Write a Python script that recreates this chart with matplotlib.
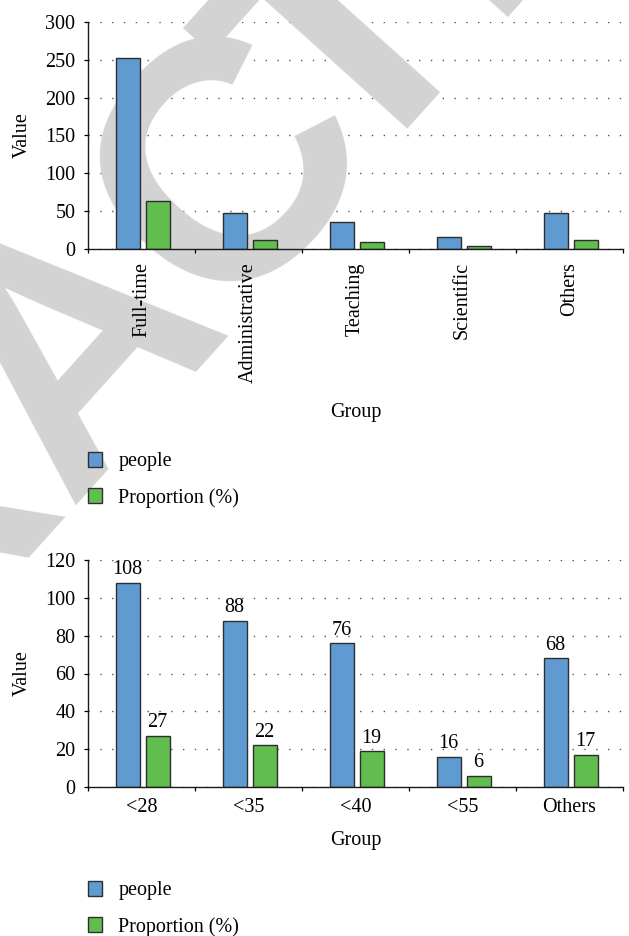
import matplotlib.pyplot as plt
import numpy as np

# staff by job type
jobs = ['Full-time', 'Administrative', 'Teaching', 'Scientific', 'Others']
job_people = [252, 48, 36, 16, 48]
job_prop = [63, 12, 9, 4, 12]

# staff by age group
ages = ['<28', '<35', '<40', '<55', 'Others']
age_people = [108, 88, 76, 16, 68]
age_prop = [27, 22, 19, 6, 17]

BLUE = '#5f9bd0'
GREEN = '#62bd4f'
EDGE = '#2e2e2e'
W, H = 629, 936

plt.rcParams['font.family'] = ['Liberation Serif', 'DejaVu Serif']
plt.rcParams['font.size'] = 14.5

fig = plt.figure(figsize=(W / 100, H / 100), dpi=100)


def px_axes(left, top, right, bottom):
    return fig.add_axes([left / W, 1 - bottom / H, (right - left) / W, (bottom - top) / H])


def grouped(ax, labels, people, prop, ymax, step, rotate):
    x = np.arange(len(labels))
    b1 = ax.bar(x - 0.13, people, 0.225, color=BLUE, edgecolor=EDGE, linewidth=1.0, label='people')
    b2 = ax.bar(x + 0.15, prop, 0.225, color=GREEN, edgecolor=EDGE, linewidth=1.0, label='Proportion (%)')
    ax.set_xlim(-0.5, len(labels) - 0.5)
    ax.set_ylim(0, ymax)
    ax.set_yticks(np.arange(0, ymax + 1, step))
    ax.set_xticks(x)
    ax.set_xticklabels(labels, rotation=90 if rotate else 0)
    ax.set_xticks(np.arange(len(labels) + 1) - 0.5, minor=True)
    ax.tick_params(axis='x', which='major', length=0, pad=9.5 if rotate else 8)
    ax.tick_params(axis='x', which='minor', length=3, width=0.9, direction='out')
    ax.tick_params(axis='y', length=3, width=0.9, pad=6)
    for s in ['top', 'right']:
        ax.spines[s].set_visible(False)
    for s in ['left', 'bottom']:
        ax.spines[s].set_linewidth(1.0)
        ax.spines[s].set_color('#1a1a1a')
    ax.grid(axis='y', linestyle=(0, (1, 7.5)), color='#555555', linewidth=1.0)
    ax.set_axisbelow(True)
    ax.xaxis.set_zorder(2.5)
    ax.patch.set_alpha(0)
    ax.set_ylabel('Value')
    ax.yaxis.label.set_va('center')
    ax.yaxis.set_label_coords(-0.123, 0.5)
    ax.set_xlabel('Group')
    ax.xaxis.label.set_va('center')
    return b1, b2


def add_legend(ax, top_px):
    ax.legend(loc='upper left', bbox_to_anchor=(88 / W, 1 - top_px / H), bbox_transform=fig.transFigure,
              frameon=False, handlelength=0.7, handleheight=0.75, handletextpad=0.8,
              labelspacing=0.82, borderpad=0, borderaxespad=0)


top = px_axes(88, 22, 623, 249)
grouped(top, jobs, job_people, job_prop, 300, 50, True)
top.xaxis.set_label_coords(0.5, (249 - 412) / 227)
add_legend(top, 452)

bottom = px_axes(88, 560, 623, 787)
b1, b2 = grouped(bottom, ages, age_people, age_prop, 120, 20, False)
bottom.xaxis.set_label_coords(0.5, (787 - 840) / 227)
bottom.bar_label(b1, padding=2.5)
bottom.bar_label(b2, padding=2.5)
add_legend(bottom, 881)

# grey stamp across the upper chart, under the bars but over the grid
ANG = 48
EM = 340
CAP = 0.716 * EM
bx, by = np.cos(np.deg2rad(ANG)), -np.sin(np.deg2rad(ANG))
ux, uy = -np.sin(np.deg2rad(ANG)), -np.cos(np.deg2rad(ANG))
stamp_style = dict(fontsize=EM * 0.72, fontweight='bold', family='Liberation Sans', color='#d3d3d3',
                   rotation=ANG, rotation_mode='anchor', va='baseline',
                   transform=fig.transFigure, clip_on=False, zorder=0.8)


def stamp(s, cx, cy, shift, ha):
    # cx, cy: pixel centre of one letter; shift: offset along the baseline to the text anchor
    x = cx - CAP / 2 * ux + shift * bx
    y = cy - CAP / 2 * uy + shift * by
    top.text(x / W, 1 - y / H, s, ha=ha, **stamp_style)


stamp('RETRA', 55, 322, 0.361 * EM, 'right')
stamp('C', 212, 150, 0, 'center')
stamp('TED', 423 + CAP / 2 * ux, 108 + CAP / 2 * uy, -0.305 * EM, 'left')

fig.savefig('out.png', dpi=100)
